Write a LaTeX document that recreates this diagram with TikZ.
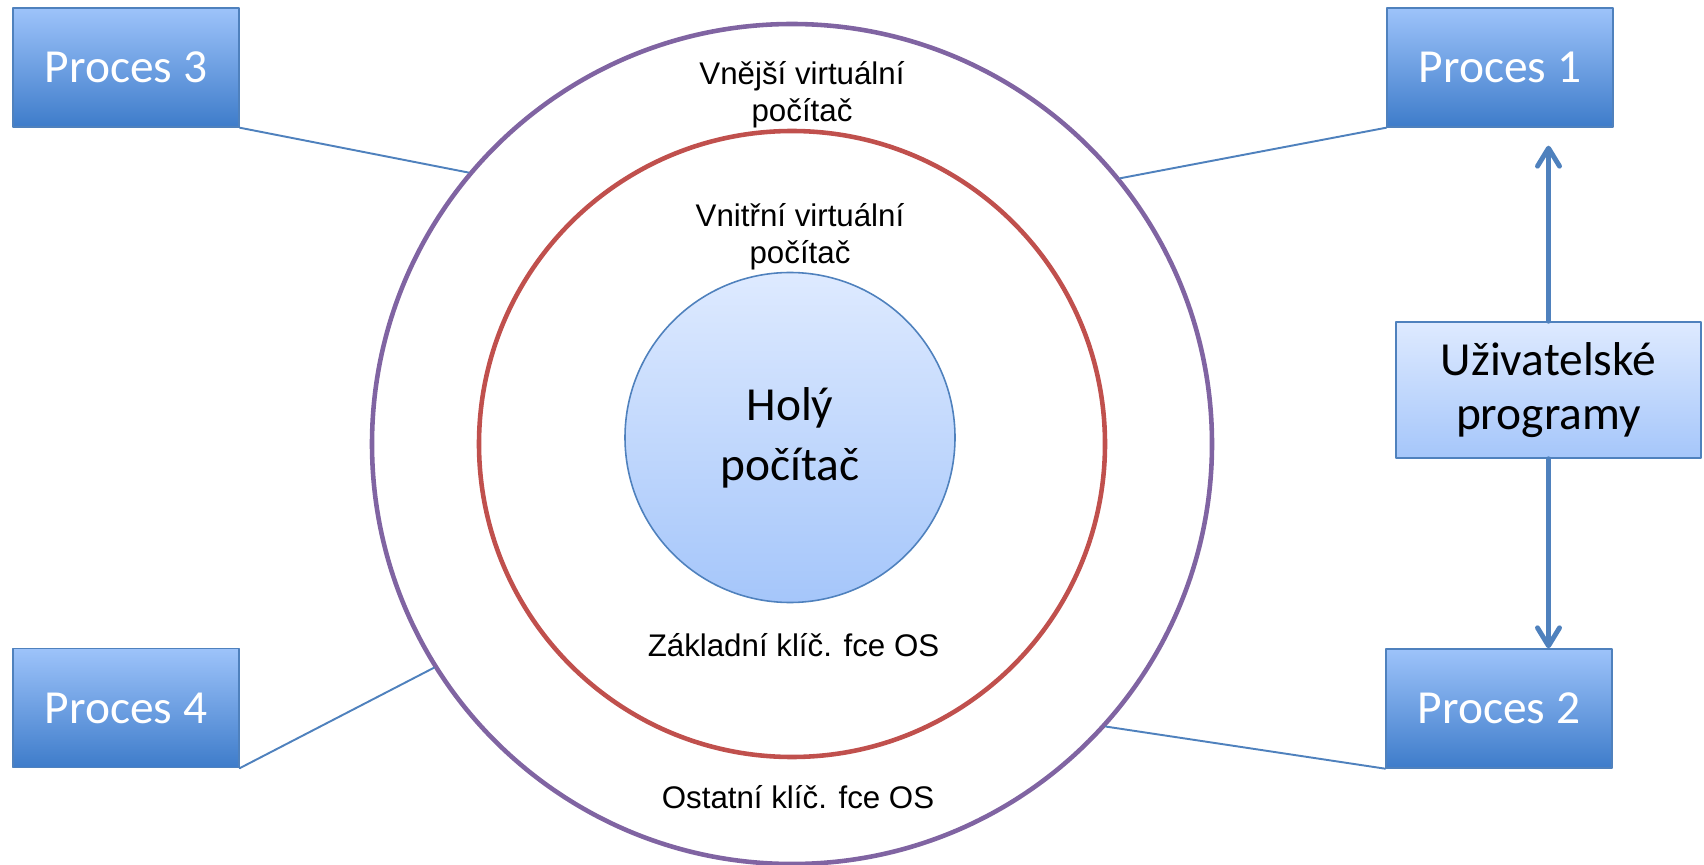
\documentclass[tikz,border=0pt]{standalone}
\usepackage{fontspec}
\setmainfont{Carlito}
\newfontfamily\arialfont{Liberation Sans}
\usetikzlibrary{arrows.meta}
\definecolor{ringpurple}{RGB}{128,100,162}
\definecolor{ringred}{RGB}{192,80,77}
\definecolor{linkblue}{RGB}{79,129,189}
\definecolor{proctop}{RGB}{157,195,250}
\definecolor{procbot}{RGB}{62,124,202}
\definecolor{lighttop}{RGB}{222,234,255}
\definecolor{lightbot}{RGB}{165,198,250}
\begin{document}
\begin{tikzpicture}[line join=round, line cap=round,
    proc/.style={draw=linkblue, line width=0.8pt, top color=proctop, bottom color=procbot,
        minimum width=4.52cm, minimum height=2.38cm, inner sep=0pt, text=white,
        font=\fontsize{27}{32}\selectfont},
    ring/.style={circle, line width=2.6pt, inner sep=0pt},
    label/.style={font=\arialfont\fontsize{17.8}{21}\selectfont, align=center},
    link/.style={draw=linkblue, line width=1.1pt},
    arr/.style={draw=linkblue, line width=2.8pt, -{Straight Barb[length=3.6mm,width=4.4mm,round]}}]
    \useasboundingbox (0,0) rectangle (34.08,17.28);
    % vrstvy
    \node[ring, draw=ringpurple, minimum size=16.8cm] (outer) at (15.84,8.40) {};
    \node[ring, draw=ringred, minimum size=12.52cm] (inner) at (15.84,8.40) {};
    \node[circle, draw=linkblue, line width=0.9pt, top color=lighttop, bottom color=lightbot,
        minimum size=6.6cm, align=center, font=\fontsize{27}{34}\selectfont] (core) at (15.80,8.53) {Holý\\[0pt]počítač\rule[-0.12cm]{0pt}{0pt}};
    \node[label] (vnejsi) at (16.04,15.38) {Vnější virtuální\\počítač};
    \node[label] (vnitrni) at (16.00,12.55) {Vnitřní virtuální\\počítač};
    \node[label, anchor=base] (zakladni) at (15.87,4.16) {Základní klíč. fce OS};
    \node[label, anchor=base] (ostatni) at (15.96,1.12) {Ostatní klíč. fce OS};
    % procesy
    \node[proc] (p3) at (2.52,15.93) {Proces 3};
    \node[proc] (p1) at (30.00,15.93) {Proces 1};
    \node[proc] (p4) at (2.52,3.12) {Proces 4};
    \node[proc] (p2) at (29.98,3.11) {Proces 2};
    \node[draw=linkblue, line width=0.9pt, top color=lighttop, bottom color=lightbot,
        minimum width=6.1cm, minimum height=2.72cm, align=center,
        font=\fontsize{27}{31}\selectfont] (prog) at (30.97,9.48) {Uživatelské\\programy};
    \draw[link] (p3.south east) -- (outer.140.6);
    \draw[link] (p1.south west) -- (outer.39.8);
    \draw[link] (p4.south east) -- (outer.212);
    \draw[link] (p2.south west) -- (outer.-42);
    \draw[arr] (prog.north) -- ([yshift=-0.36cm]prog.north |- p1.south);
    \draw[arr] (prog.south) -- (prog.south |- p2.north);
\end{tikzpicture}
\end{document}
